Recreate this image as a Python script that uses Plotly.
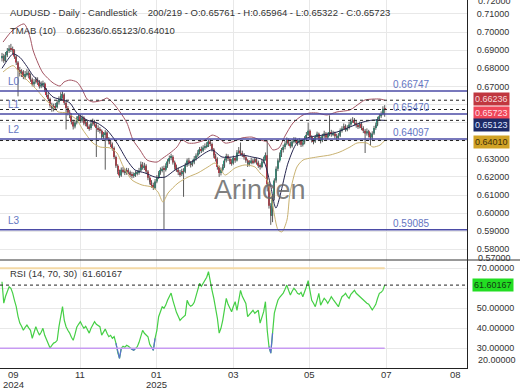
import numpy as np
import plotly.graph_objects as go

# ---------------- data ----------------
first_date = "2024-09-02"

open_ = [0.6855, 0.6868, 0.6842, 0.6872, 0.6895, 0.6910, 0.6902, 0.6898, 0.6865, 0.6832,
         0.6790, 0.6770, 0.6782, 0.6752, 0.6768, 0.6775, 0.6760, 0.6738, 0.6712, 0.6725,
         0.6738, 0.6722, 0.6700, 0.6712, 0.6716, 0.6680, 0.6652, 0.6630, 0.6595, 0.6578,
         0.6590, 0.6585, 0.6612, 0.6630, 0.6648, 0.6655, 0.6610, 0.6580, 0.6555, 0.6540,
         0.6505, 0.6478, 0.6500, 0.6522, 0.6535, 0.6510, 0.6528, 0.6495, 0.6502, 0.6478,
         0.6470, 0.6495, 0.6508, 0.6490, 0.6470, 0.6462, 0.6455, 0.6420, 0.6435, 0.6445,
         0.6410, 0.6395, 0.6380, 0.6360, 0.6310, 0.6262, 0.6228, 0.6208, 0.6240, 0.6232,
         0.6222, 0.6238, 0.6225, 0.6215, 0.6205, 0.6212, 0.6218, 0.6222, 0.6235, 0.6268,
         0.6252, 0.6262, 0.6230, 0.6195, 0.6170, 0.6155, 0.6138, 0.6175, 0.6198, 0.6222,
         0.6238, 0.6245, 0.6240, 0.6262, 0.6285, 0.6305, 0.6312, 0.6280, 0.6255, 0.6240,
         0.6225, 0.6215, 0.6232, 0.6228, 0.6265, 0.6290, 0.6275, 0.6268, 0.6280, 0.6300,
         0.6318, 0.6335, 0.6352, 0.6345, 0.6362, 0.6370, 0.6378, 0.6395, 0.6382, 0.6352,
         0.6318, 0.6300, 0.6255, 0.6222, 0.6240, 0.6258, 0.6290, 0.6315, 0.6300, 0.6285,
         0.6275, 0.6305, 0.6290, 0.6335, 0.6345, 0.6330, 0.6322, 0.6308, 0.6290, 0.6268,
         0.6280, 0.6290, 0.6282, 0.6298, 0.6280, 0.6262, 0.6255, 0.6285, 0.6300, 0.6320,
         0.6160, 0.6040, 0.5985, 0.6085, 0.6180, 0.6245, 0.6290, 0.6322, 0.6348, 0.6365,
         0.6385, 0.6405, 0.6385, 0.6370, 0.6395, 0.6405, 0.6398, 0.6388, 0.6402, 0.6378,
         0.6390, 0.6410, 0.6432, 0.6455, 0.6420, 0.6402, 0.6395, 0.6420, 0.6438, 0.6410,
         0.6400, 0.6425, 0.6440, 0.6418, 0.6432, 0.6448, 0.6435, 0.6440, 0.6425, 0.6418,
         0.6428, 0.6455, 0.6468, 0.6480, 0.6462, 0.6470, 0.6490, 0.6508, 0.6515, 0.6498,
         0.6485, 0.6478, 0.6492, 0.6470, 0.6455, 0.6440, 0.6452, 0.6432, 0.6418, 0.6440,
         0.6470, 0.6488, 0.6520, 0.6535, 0.6548, 0.65761]

high = [0.6885, 0.6880, 0.6890, 0.6912, 0.6928, 0.6935, 0.6920, 0.6905, 0.6875, 0.6840,
        0.6808, 0.6795, 0.6790, 0.6785, 0.6795, 0.6788, 0.6772, 0.6748, 0.6740, 0.6752,
        0.6750, 0.6735, 0.6728, 0.6732, 0.6722, 0.6690, 0.6665, 0.6638, 0.6610, 0.6605,
        0.6608, 0.6625, 0.6645, 0.6668, 0.6672, 0.6662, 0.6625, 0.6592, 0.6570, 0.6552,
        0.6515, 0.6512, 0.6535, 0.6550, 0.6545, 0.6540, 0.6535, 0.6518, 0.6512, 0.6490,
        0.6508, 0.6522, 0.6515, 0.6500, 0.6485, 0.6475, 0.6462, 0.6448, 0.6458, 0.6452,
        0.6420, 0.6405, 0.6390, 0.6368, 0.6318, 0.6270, 0.6240, 0.6252, 0.6255, 0.6245,
        0.6250, 0.6248, 0.6235, 0.6228, 0.6225, 0.6232, 0.6238, 0.6250, 0.6285, 0.6282,
        0.6278, 0.6270, 0.6238, 0.6205, 0.6182, 0.6168, 0.6188, 0.6210, 0.6232, 0.6252,
        0.6258, 0.6262, 0.6275, 0.6298, 0.6318, 0.6328, 0.6320, 0.6290, 0.6268, 0.6252,
        0.6238, 0.6245, 0.6248, 0.6278, 0.6302, 0.6305, 0.6288, 0.6295, 0.6315, 0.6330,
        0.6348, 0.6365, 0.6368, 0.6375, 0.6385, 0.6392, 0.6405, 0.6408, 0.6390, 0.6360,
        0.6328, 0.6308, 0.6262, 0.6252, 0.6270, 0.6302, 0.6328, 0.6325, 0.6310, 0.6298,
        0.6318, 0.6312, 0.6348, 0.6365, 0.6390, 0.6345, 0.6332, 0.6318, 0.6298, 0.6292,
        0.6305, 0.6300, 0.6310, 0.6305, 0.6290, 0.6275, 0.6298, 0.6312, 0.6335, 0.6402,
        0.6170, 0.6055, 0.6100, 0.6192, 0.6258, 0.6302, 0.6335, 0.6360, 0.6378, 0.6398,
        0.6418, 0.6412, 0.6395, 0.6408, 0.6420, 0.6418, 0.6410, 0.6415, 0.6408, 0.6405,
        0.6425, 0.6448, 0.6500, 0.6462, 0.6430, 0.6415, 0.6432, 0.6450, 0.6445, 0.6422,
        0.6438, 0.6455, 0.6448, 0.6445, 0.6540, 0.6460, 0.6455, 0.6450, 0.6438, 0.6442,
        0.6468, 0.6480, 0.6495, 0.6490, 0.6485, 0.6505, 0.6522, 0.6530, 0.6525, 0.6510,
        0.6498, 0.6505, 0.6500, 0.6480, 0.6465, 0.6468, 0.6460, 0.6445, 0.6452, 0.6482,
        0.6500, 0.6532, 0.6548, 0.6562, 0.6590, 0.65964]

low = [0.6838, 0.6830, 0.6835, 0.6862, 0.6885, 0.6890, 0.6878, 0.6852, 0.6818, 0.6645,
       0.6755, 0.6752, 0.6740, 0.6738, 0.6755, 0.6745, 0.6725, 0.6700, 0.6698, 0.6715,
       0.6708, 0.6688, 0.6690, 0.6695, 0.6668, 0.6640, 0.6618, 0.6582, 0.6560, 0.6562,
       0.6570, 0.6578, 0.6600, 0.6620, 0.6632, 0.6598, 0.6462, 0.6540, 0.6525, 0.6490,
       0.6462, 0.6468, 0.6490, 0.6510, 0.6498, 0.6500, 0.6485, 0.6480, 0.6465, 0.6455,
       0.6460, 0.6482, 0.6478, 0.6310, 0.6448, 0.6440, 0.6408, 0.6410, 0.6240, 0.6398,
       0.6380, 0.6365, 0.6345, 0.6298, 0.6250, 0.6215, 0.6195, 0.6200, 0.6220, 0.6210,
       0.6212, 0.6215, 0.6200, 0.6192, 0.6195, 0.6200, 0.6208, 0.6212, 0.6228, 0.6240,
       0.6238, 0.6218, 0.6182, 0.6158, 0.6140, 0.6128, 0.6132, 0.6165, 0.6188, 0.6212,
       0.6225, 0.5908, 0.6230, 0.6250, 0.6272, 0.6292, 0.6268, 0.6240, 0.6228, 0.6210,
       0.6200, 0.6205, 0.6090, 0.6220, 0.6255, 0.6262, 0.6252, 0.6258, 0.6270, 0.6290,
       0.6308, 0.6325, 0.6332, 0.6338, 0.6350, 0.6358, 0.6365, 0.6370, 0.6340, 0.6305,
       0.6285, 0.6240, 0.6200, 0.6208, 0.6230, 0.6250, 0.6280, 0.6288, 0.6270, 0.6262,
       0.6268, 0.6278, 0.6285, 0.6325, 0.6320, 0.6310, 0.6295, 0.6278, 0.6255, 0.6258,
       0.6270, 0.6270, 0.6275, 0.6268, 0.6250, 0.6240, 0.6248, 0.6275, 0.6290, 0.6120,
       0.6025, 0.5935, 0.5950, 0.6070, 0.6168, 0.6232, 0.6280, 0.6310, 0.6335, 0.6352,
       0.6375, 0.6372, 0.6358, 0.6362, 0.6385, 0.6385, 0.6372, 0.6378, 0.6365, 0.6368,
       0.6380, 0.6400, 0.6425, 0.6408, 0.6390, 0.6380, 0.6388, 0.6410, 0.6398, 0.6385,
       0.6392, 0.6415, 0.6405, 0.6410, 0.6425, 0.6422, 0.6425, 0.6412, 0.6405, 0.6408,
       0.6420, 0.6445, 0.6460, 0.6450, 0.6452, 0.6462, 0.6480, 0.6498, 0.6485, 0.6472,
       0.6465, 0.6468, 0.6458, 0.6442, 0.6332, 0.6428, 0.6418, 0.6372, 0.6405, 0.6432,
       0.6460, 0.6480, 0.6512, 0.6525, 0.6540, 0.65322]

close = [0.6868, 0.6842, 0.6872, 0.6895, 0.6910, 0.6902, 0.6898, 0.6865, 0.6832, 0.6790,
         0.6770, 0.6782, 0.6752, 0.6768, 0.6775, 0.6760, 0.6738, 0.6712, 0.6725, 0.6738,
         0.6722, 0.6700, 0.6712, 0.6716, 0.6680, 0.6652, 0.6630, 0.6595, 0.6578, 0.6590,
         0.6585, 0.6612, 0.6630, 0.6648, 0.6655, 0.6610, 0.6580, 0.6555, 0.6540, 0.6505,
         0.6478, 0.6500, 0.6522, 0.6535, 0.6510, 0.6528, 0.6495, 0.6502, 0.6478, 0.6470,
         0.6495, 0.6508, 0.6490, 0.6470, 0.6462, 0.6455, 0.6420, 0.6435, 0.6445, 0.6410,
         0.6395, 0.6380, 0.6360, 0.6310, 0.6262, 0.6228, 0.6208, 0.6240, 0.6232, 0.6222,
         0.6238, 0.6225, 0.6215, 0.6205, 0.6212, 0.6218, 0.6222, 0.6235, 0.6268, 0.6252,
         0.6262, 0.6230, 0.6195, 0.6170, 0.6155, 0.6138, 0.6175, 0.6198, 0.6222, 0.6238,
         0.6245, 0.6240, 0.6262, 0.6285, 0.6305, 0.6312, 0.6280, 0.6255, 0.6240, 0.6225,
         0.6215, 0.6232, 0.6228, 0.6265, 0.6290, 0.6275, 0.6268, 0.6280, 0.6300, 0.6318,
         0.6335, 0.6352, 0.6345, 0.6362, 0.6370, 0.6378, 0.6395, 0.6382, 0.6352, 0.6318,
         0.6300, 0.6255, 0.6222, 0.6240, 0.6258, 0.6290, 0.6315, 0.6300, 0.6285, 0.6275,
         0.6305, 0.6290, 0.6335, 0.6345, 0.6330, 0.6322, 0.6308, 0.6290, 0.6268, 0.6280,
         0.6290, 0.6282, 0.6298, 0.6280, 0.6262, 0.6255, 0.6285, 0.6300, 0.6320, 0.6160,
         0.6040, 0.5985, 0.6085, 0.6180, 0.6245, 0.6290, 0.6322, 0.6348, 0.6365, 0.6385,
         0.6405, 0.6385, 0.6370, 0.6395, 0.6405, 0.6398, 0.6388, 0.6402, 0.6378, 0.6390,
         0.6410, 0.6432, 0.6455, 0.6420, 0.6402, 0.6395, 0.6420, 0.6438, 0.6410, 0.6400,
         0.6425, 0.6440, 0.6418, 0.6432, 0.6448, 0.6435, 0.6440, 0.6425, 0.6418, 0.6428,
         0.6455, 0.6468, 0.6480, 0.6462, 0.6470, 0.6490, 0.6508, 0.6515, 0.6498, 0.6485,
         0.6478, 0.6492, 0.6470, 0.6455, 0.6440, 0.6452, 0.6432, 0.6418, 0.6440, 0.6470,
         0.6488, 0.6520, 0.6535, 0.6548, 0.65761, 0.65723]

rsi = [63.3, 52.6, 56.0, 59.0, 60.8, 60.0, 57.6, 54.0, 50.8, 46.0,
       42.6, 41.0, 39.0, 40.5, 41.6, 40.2, 39.0, 35.0, 37.5, 40.8,
       38.5, 36.6, 38.0, 40.0, 36.5, 34.0, 32.0, 30.1, 31.5, 32.6,
       33.0, 34.0, 40.8, 45.0, 50.8, 44.0, 40.8, 39.0, 37.6, 35.5,
       34.0, 37.0, 40.5, 42.0, 43.3, 41.5, 40.0, 41.0, 39.0, 37.6,
       40.0, 41.5, 43.3, 42.0, 41.5, 40.8, 36.6, 38.0, 39.6, 37.5,
       35.8, 36.5, 35.0, 35.8, 32.6, 28.0, 25.0, 30.0, 31.0, 30.5,
       31.5, 31.0, 30.0, 29.5, 29.0, 30.0, 30.8, 33.0, 36.0, 39.0,
       37.5, 36.5, 35.8, 32.0, 30.5, 29.0, 35.0, 39.0, 45.8, 48.0,
       50.8, 50.0, 51.6, 54.0, 56.0, 57.6, 54.0, 50.8, 48.0, 46.0,
       44.0, 45.0, 46.0, 46.6, 54.0, 52.0, 51.0, 51.6, 53.0, 55.8,
       59.0, 62.5, 61.0, 62.5, 64.0, 65.5, 68.3, 63.0, 59.0, 55.0,
       50.8, 45.0, 37.6, 40.0, 44.0, 50.0, 55.0, 52.0, 50.0, 48.3,
       51.0, 53.3, 49.0, 55.0, 59.0, 56.0, 54.0, 52.4, 45.8, 47.0,
       48.0, 49.0, 47.5, 48.5, 49.0, 42.6, 45.0, 48.3, 53.3, 39.0,
       30.8, 27.6, 37.6, 47.6, 51.0, 54.0, 55.5, 56.5, 57.6, 59.5,
       61.6, 59.0, 56.6, 58.5, 60.0, 59.0, 57.5, 57.0, 58.0, 55.8,
       58.0, 60.8, 63.8, 58.0, 54.0, 52.5, 50.8, 54.0, 57.5, 51.6,
       53.5, 55.0, 54.0, 52.5, 54.0, 55.8, 54.5, 53.3, 52.0, 50.8,
       53.5, 55.8, 56.5, 57.5, 56.0, 55.0, 57.0, 58.0, 59.0, 57.5,
       56.6, 56.0, 55.0, 54.0, 53.3, 52.5, 52.0, 50.5, 49.2, 50.5,
       52.0, 55.0, 57.5, 58.0, 59.0, 61.60167]

# TMA bands, read at points along each curve (bar index, price)
tma_upper_bar = [0.6, 5.6, 12.4, 15.7, 17.4, 20.2, 23.0, 28.7, 32.6, 34.8,
                 38.2, 42.1, 44.9, 47.8, 51.1, 56.7, 59.0, 62.4, 66.3, 70.2,
                 73.6, 77.5, 81.5, 87.1, 90.4, 94.4, 98.3, 101.1, 104.5, 108.4,
                 114.0, 118.0, 121.3, 125.3, 129.2, 134.8, 140.4, 144.9, 148.9, 152.2,
                 155.6, 159.0, 163.5, 169.1, 173.0, 177.0, 182.6, 188.2, 195.5, 201.1,
                 203.9, 208.4, 212.4, 215]
tma_upper = [0.6945, 0.7006, 0.7045, 0.6973, 0.6901, 0.6829, 0.6774, 0.6719, 0.6702, 0.6724,
             0.6735, 0.6724, 0.6686, 0.6630, 0.6614, 0.6625, 0.6636, 0.6608, 0.6559, 0.6498,
             0.6404, 0.6349, 0.6293, 0.6282, 0.6304, 0.6332, 0.6365, 0.6404, 0.6387, 0.6387,
             0.6404, 0.6431, 0.6420, 0.6387, 0.6393, 0.6415, 0.6420, 0.6404, 0.6393, 0.6349,
             0.6360, 0.6426, 0.6498, 0.6542, 0.6553, 0.6553, 0.6542, 0.6559, 0.6570, 0.6608,
             0.6625, 0.6630, 0.6630, 0.66236]

tma_mid_bar = [0, 3.4, 6.2, 10.1, 14.0, 17.4, 23.0, 28.7, 34.3, 38.2,
               42.1, 47.8, 53.4, 59.0, 64.6, 70.2, 74.7, 80.3, 86.0, 91.6,
               97.2, 102.8, 108.4, 114.0, 118.0, 123.6, 129.2, 134.8, 140.4, 146.6,
               150.6, 153.9, 160.7, 165.7, 173.0, 180.3, 188.2, 195.5, 202.8, 208.4,
               215]
tma_mid = [0.6800, 0.6850, 0.6880, 0.6860, 0.6810, 0.6760, 0.6705, 0.6641, 0.6625, 0.6608,
           0.6553, 0.6514, 0.6498, 0.6459, 0.6387, 0.6293, 0.6238, 0.6222, 0.6199, 0.6199,
           0.6238, 0.6266, 0.6293, 0.6332, 0.6349, 0.6310, 0.6310, 0.6321, 0.6310, 0.6293,
           0.6166, 0.6028, 0.6277, 0.6387, 0.6420, 0.6431, 0.6448, 0.6476, 0.6503, 0.6514,
           0.65123]

tma_lower_bar = [0.6, 6.2, 10.1, 15.7, 19.7, 23.0, 28.7, 31.5, 36.5, 42.1,
                 45.5, 51.1, 55.1, 60.7, 64.6, 68.0, 73.0, 78.7, 84.3, 87.6,
                 90.4, 93.3, 98.9, 104.5, 110.1, 115.7, 119.7, 122.5, 125.3, 130.9,
                 136.5, 142.1, 144.9, 148.9, 152.2, 155.1, 157.3, 160.1, 161.8, 165.7,
                 169.1, 177.0, 184.3, 189.9, 195.5, 199.4, 205.1, 208.4, 212.4, 215]
tma_lower = [0.6780, 0.6815, 0.6774, 0.6719, 0.6680, 0.6641, 0.6586, 0.6559, 0.6553, 0.6514,
             0.6459, 0.6387, 0.6365, 0.6360, 0.6332, 0.6260, 0.6183, 0.6155, 0.6144, 0.6117,
             0.6061, 0.6111, 0.6166, 0.6199, 0.6222, 0.6255, 0.6277, 0.6249, 0.6210, 0.6249,
             0.6266, 0.6255, 0.6222, 0.6183, 0.6034, 0.5907, 0.5896, 0.5962, 0.6111, 0.6255,
             0.6293, 0.6310, 0.6321, 0.6338, 0.6365, 0.6387, 0.6387, 0.6365, 0.6376, 0.64010]

level_names = ["L0", "L1", "L2", "L3"]
level_values = [0.66747, 0.65470, 0.64097, 0.59085]

tmab_last = [0.66236, 0.65123, 0.64010]   # upper / mid / lower
rsi_params = (14, 70, 30)

month_starts = ["2024-09-01", "2024-11-01", "2025-01-01", "2025-03-01", "2025-05-01", "2025-07-01"]
month_labels = ["09", "11", "01", "03", "05", "07"]
year_labels = ["2024", "", "2025", "", "", ""]
future_label = "08"

price_ticks = [0.58, 0.59, 0.60, 0.61, 0.62, 0.63, 0.64, 0.65, 0.66, 0.67, 0.68, 0.69, 0.70, 0.71]
price_ticks_hidden = [0.64, 0.65, 0.66]     # covered by value boxes in the original
price_edge_labels = ["0.72000", "0.57000"]
rsi_ticks = [30, 40, 50, 60, 70]
rsi_ticks_hidden = [60]
rsi_edge_label = "20.00000"

header_title = "AUDUSD - Daily - Candlestick"
header_bar = "200/219"

# ---------------- geometry & styles ----------------
W, H = 520, 390
M_R, M_B = 53, 22
PW, PH = W - M_R, H - M_B          # plot area: 467 x 368
MAIN_H = 260
PX_PER_BAR = 1.78
X0_PX = 2.0
x_range = [-X0_PX / PX_PER_BAR, (PW - X0_PX) / PX_PER_BAR]
y_main_range = [0.57409, 0.71773]
y_rsi_range = [20.15, 74.15]
split = (PH - MAIN_H) / PH

FONT = "Liberation Sans, Arial, sans-serif"
TXT = "#333333"
GRID = "#e8e8e8"
UP = "#2e9f86"
DOWN = "#dc3545"
WICK = "#5a5a5a"
LEVEL = "#4b4ba6"
LEVEL_TXT = "#6476c2"


def px_x(px):
    return px / PW


def px_y(py):
    return 1 - py / PH


def bar_px(b):
    return X0_PX + PX_PER_BAR * b


n = len(close)
bars = np.arange(n)
o = np.array(open_)
c = np.array(close)
up_mask = c >= o
body_base = np.minimum(o, c)
body_h = np.maximum(np.abs(c - o), 0.00025)
body_col = np.where(up_mask, UP, DOWN).tolist()

wx, wy = [], []
for i in range(n):
    wx += [i, i, None]
    wy += [low[i], high[i], None]

rsi_arr = np.array(rsi)
rsi_low = []
for i in range(n):
    near = rsi_arr[max(0, i - 1):i + 2]
    rsi_low.append(rsi[i] if (near < rsi_params[2]).any() else None)

fig = go.Figure()

fig.add_trace(go.Scatter(x=wx, y=wy, mode="lines", line=dict(color=WICK, width=1),
                         hoverinfo="skip", showlegend=False, xaxis="x", yaxis="y"))
fig.add_trace(go.Bar(x=bars, y=body_h, base=body_base, width=0.72,
                     marker=dict(color=body_col, line=dict(width=0)),
                     hoverinfo="skip", showlegend=False, xaxis="x", yaxis="y"))

for bx, by, col in [(tma_upper_bar, tma_upper, "#a45563"),
                    (tma_lower_bar, tma_lower, "#c9b271"),
                    (tma_mid_bar, tma_mid, "#262650")]:
    fig.add_trace(go.Scatter(x=bx, y=by, mode="lines",
                             line=dict(color=col, width=1, shape="spline", smoothing=0.7),
                             hoverinfo="skip", showlegend=False, xaxis="x", yaxis="y"))

fig.add_trace(go.Scatter(x=bars, y=rsi, mode="lines", line=dict(color="#45cf45", width=1.2),
                         hoverinfo="skip", showlegend=False, xaxis="x2", yaxis="y2"))
fig.add_trace(go.Scatter(x=bars, y=rsi_low, mode="lines", line=dict(color="#5b6fd0", width=1.2),
                         hoverinfo="skip", showlegend=False, xaxis="x2", yaxis="y2"))

tick_pos = np.busday_count(first_date, month_starts).tolist()

axis_common = dict(range=x_range, showgrid=True, gridcolor=GRID, gridwidth=1,
                   tickvals=tick_pos, zeroline=False, showticklabels=False, ticks="",
                   fixedrange=True)

main_ticktext = ["" if v in price_ticks_hidden else f"{v:.5f}" for v in price_ticks]
rsi_ticktext = ["" if v in rsi_ticks_hidden else f"{v:.5f}" for v in rsi_ticks]

fig.update_layout(
    width=W, height=H,
    margin=dict(l=0, r=M_R, t=0, b=M_B, pad=0),
    paper_bgcolor="white", plot_bgcolor="white",
    font=dict(family=FONT, size=9, color=TXT),
    barmode="overlay", showlegend=False,
    xaxis=dict(domain=[0, 1], anchor="y", **axis_common),
    xaxis2=dict(domain=[0, 1], anchor="y2", matches="x", showline=True,
                linecolor="#222222", linewidth=1, **axis_common),
    yaxis=dict(domain=[split, 1], range=y_main_range, side="right", anchor="x",
               tickvals=price_ticks, ticktext=main_ticktext, showgrid=True, gridcolor=GRID,
               zeroline=False, showline=True, linecolor="#222222", linewidth=1,
               ticks="", ticklabelstandoff=7, tickfont=dict(size=9, color=TXT),
               fixedrange=True),
    yaxis2=dict(domain=[0, split], range=y_rsi_range, side="right", anchor="x2",
                tickvals=rsi_ticks, ticktext=rsi_ticktext, showgrid=True, gridcolor=GRID,
                zeroline=False, showline=True, linecolor="#222222", linewidth=1,
                ticks="", ticklabelstandoff=7, tickfont=dict(size=9, color=TXT),
                fixedrange=True),
)

shapes = []
# separator between panels (runs under the price scale too)
shapes.append(dict(type="line", xref="paper", yref="paper", x0=0, x1=W / PW,
                   y0=split, y1=split, line=dict(color="#333333", width=1)))
# support / resistance levels
for v in level_values:
    shapes.append(dict(type="line", xref="paper", yref="y", x0=0, x1=1, y0=v, y1=v,
                       line=dict(color=LEVEL, width=1.5)))
# dotted lines at last TMA values and last close
for v in tmab_last + [close[-1]]:
    shapes.append(dict(type="line", xref="paper", yref="y", x0=0, x1=1, y0=v, y1=v,
                       line=dict(color="#222222", width=1, dash="3px,3px")))
# RSI bands
shapes.append(dict(type="line", xref="x2", yref="y2", x0=x_range[0], x1=n - 1,
                   y0=rsi_params[1], y1=rsi_params[1], line=dict(color="#f3d9a6", width=2)))
shapes.append(dict(type="line", xref="x2", yref="y2", x0=x_range[0], x1=n - 1,
                   y0=rsi_params[2], y1=rsi_params[2], line=dict(color="#c79af2", width=1.5)))
shapes.append(dict(type="line", xref="paper", yref="y2", x0=0, x1=1,
                   y0=rsi[-1], y1=rsi[-1], line=dict(color="#222222", width=1, dash="3px,3px")))
fig.update_layout(shapes=shapes)

ann = []
# headers
ann.append(dict(xref="paper", yref="paper", x=px_x(8), y=px_y(12.5), xanchor="left",
                yanchor="middle", showarrow=False, font=dict(size=9.5, color=TXT),
                text=f"{header_title}\u00a0\u00a0\u00a0 {header_bar} - O:{open_[-1]:.5f} - "
                     f"H:{high[-1]:.5f} - L:{low[-1]:.5f} - C:{close[-1]:.5f}"))
ann.append(dict(xref="paper", yref="paper", x=px_x(8), y=px_y(30), xanchor="left",
                yanchor="middle", showarrow=False, font=dict(size=9.5, color=TXT),
                text="TMAB (10)\u00a0\u00a0\u00a0 " + "/".join(f"{v:.5f}" for v in tmab_last)))
ann.append(dict(xref="paper", yref="paper", x=px_x(8), y=px_y(273.5), xanchor="left",
                yanchor="middle", showarrow=False, font=dict(size=9.5, color=TXT),
                text=f"RSI ({rsi_params[0]}, {rsi_params[1]}, {rsi_params[2]})\u00a0 {rsi[-1]:.5f}"))
# watermark
ann.append(dict(xref="paper", yref="paper", x=px_x(260), y=px_y(190), xanchor="center",
                yanchor="middle", showarrow=False, text="Arincen",
                font=dict(size=27, color="rgba(105,105,105,0.85)")))
# level labels
for name, v in zip(level_names, level_values):
    ann.append(dict(xref="paper", yref="y", x=px_x(6), y=v, yshift=9.5, xanchor="left",
                    yanchor="middle", showarrow=False, text=name,
                    font=dict(size=10, color=LEVEL_TXT)))
    ann.append(dict(xref="paper", yref="y", x=px_x(391), y=v, yshift=6.5, xanchor="left",
                    yanchor="middle", showarrow=False, text=f"{v:.5f}",
                    font=dict(size=10, color=LEVEL_TXT)))
# value boxes on the price scale
boxes = [(tmab_last[0], 1.0, "#c0373f", "#f6dada"),
         (close[-1], -3.2, "#ef4658", "#ffdfe4"),
         (tmab_last[1], -5.0, "#1d2a66", "#dfe4ff"),
         (tmab_last[2], -1.2, "#d1a225", "#3a2c08")]
for v, sh, bg, fg in boxes:
    ann.append(dict(xref="paper", yref="y", x=px_x(473), y=v, yshift=sh, xanchor="left",
                    yanchor="middle", showarrow=False, text=f"{v:.5f}", bgcolor=bg,
                    borderpad=1, font=dict(size=9, color=fg)))
ann.append(dict(xref="paper", yref="y2", x=px_x(472), y=rsi[-1], xanchor="left",
                yanchor="middle", showarrow=False, text=f"{rsi[-1]:.5f}", bgcolor="#22dd22",
                borderpad=1, font=dict(size=9, color="#133a13")))
# clamped edge labels of the scales
ann.append(dict(xref="paper", yref="paper", x=px_x(476), y=px_y(1.5), xanchor="left",
                yanchor="middle", showarrow=False, text=price_edge_labels[0],
                font=dict(size=9, color=TXT)))
ann.append(dict(xref="paper", yref="paper", x=px_x(476), y=px_y(257.5), xanchor="left",
                yanchor="middle", showarrow=False, text=price_edge_labels[1],
                font=dict(size=9, color=TXT)))
ann.append(dict(xref="paper", yref="paper", x=px_x(476), y=px_y(359.5), xanchor="left",
                yanchor="middle", showarrow=False, text=rsi_edge_label,
                font=dict(size=9, color=TXT)))
# time axis labels (month on first row, year below where it changes)
for k, (pos, mlab, ylab) in enumerate(zip(tick_pos, month_labels, year_labels)):
    xp = max(bar_px(pos), 13.0)      # the first label is kept inside the chart
    ann.append(dict(xref="paper", yref="paper", x=px_x(xp), y=px_y(374.0),
                    xanchor="center", yanchor="middle", showarrow=False, text=mlab,
                    borderpad=0, font=dict(size=9.5, color=TXT)))
    if ylab:
        ann.append(dict(xref="paper", yref="paper", x=px_x(xp), y=px_y(384.5),
                        xanchor="center", yanchor="middle", showarrow=False, text=ylab,
                        borderpad=0, font=dict(size=9.5, color=TXT)))
ann.append(dict(xref="paper", yref="paper", x=px_x(455), y=px_y(374.0), xanchor="center",
                yanchor="middle", showarrow=False, text=future_label, borderpad=0,
                font=dict(size=9.5, color=TXT)))

fig.update_layout(annotations=ann)

fig.write_html("out.html", config={"displayModeBar": False, "responsive": False},
               post_script="document.body.style.margin='0px';document.body.style.overflow='hidden';")
